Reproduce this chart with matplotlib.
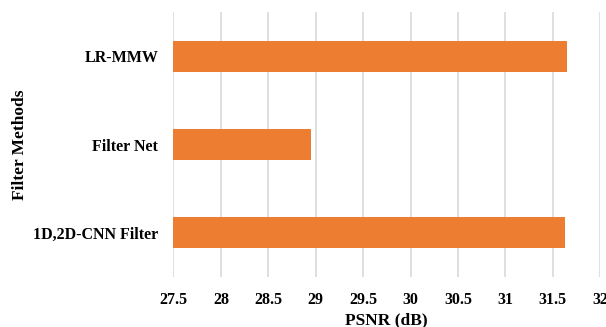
import matplotlib
matplotlib.use("Agg")
import matplotlib.pyplot as plt
import numpy as np

methods = ["1D,2D-CNN Filter", "Filter Net", "LR-MMW"]
psnr = [31.63, 28.95, 31.65]
xticks = [27.5, 28, 28.5, 29, 29.5, 30, 30.5, 31, 31.5, 32]
xtick_labels = ["27.5", "28", "28.5", "29", "29.5", "30", "30.5", "31", "31.5", "32"]

plt.rcParams["font.family"] = ["Liberation Serif", "DejaVu Serif"]
plt.rcParams["font.weight"] = "bold"

fig = plt.figure(figsize=(6.06, 3.27), dpi=100)
ax = fig.add_axes([0.2863, 0.153, 0.704, 0.81])

y = np.arange(len(methods))
ax.barh(y, psnr, height=0.35, color="#ED7D31", zorder=3)

ax.set_xlim(27.5, 32)
ax.set_ylim(-0.5, 2.5)
ax.set_xticks(xticks)
ax.set_xticklabels(xtick_labels, fontsize=11.5, fontweight="bold")
ax.set_yticks(y)
ax.set_yticklabels(methods, fontsize=11.5, fontweight="bold")
ax.tick_params(axis="both", length=0)
ax.tick_params(axis="x", pad=11)
ax.tick_params(axis="y", pad=11)

ax.grid(axis="x", color="#D9D9D9", linewidth=1.2, zorder=0)
for s in ax.spines.values():
    s.set_visible(False)

ax.set_xlabel("PSNR (dB)", fontsize=12.5, fontweight="bold", labelpad=3)
ax.set_ylabel("Filter Methods", fontsize=12.5, fontweight="bold")
ax.yaxis.set_label_coords(-0.34, 0.5)

fig.savefig("out.png", dpi=100)
